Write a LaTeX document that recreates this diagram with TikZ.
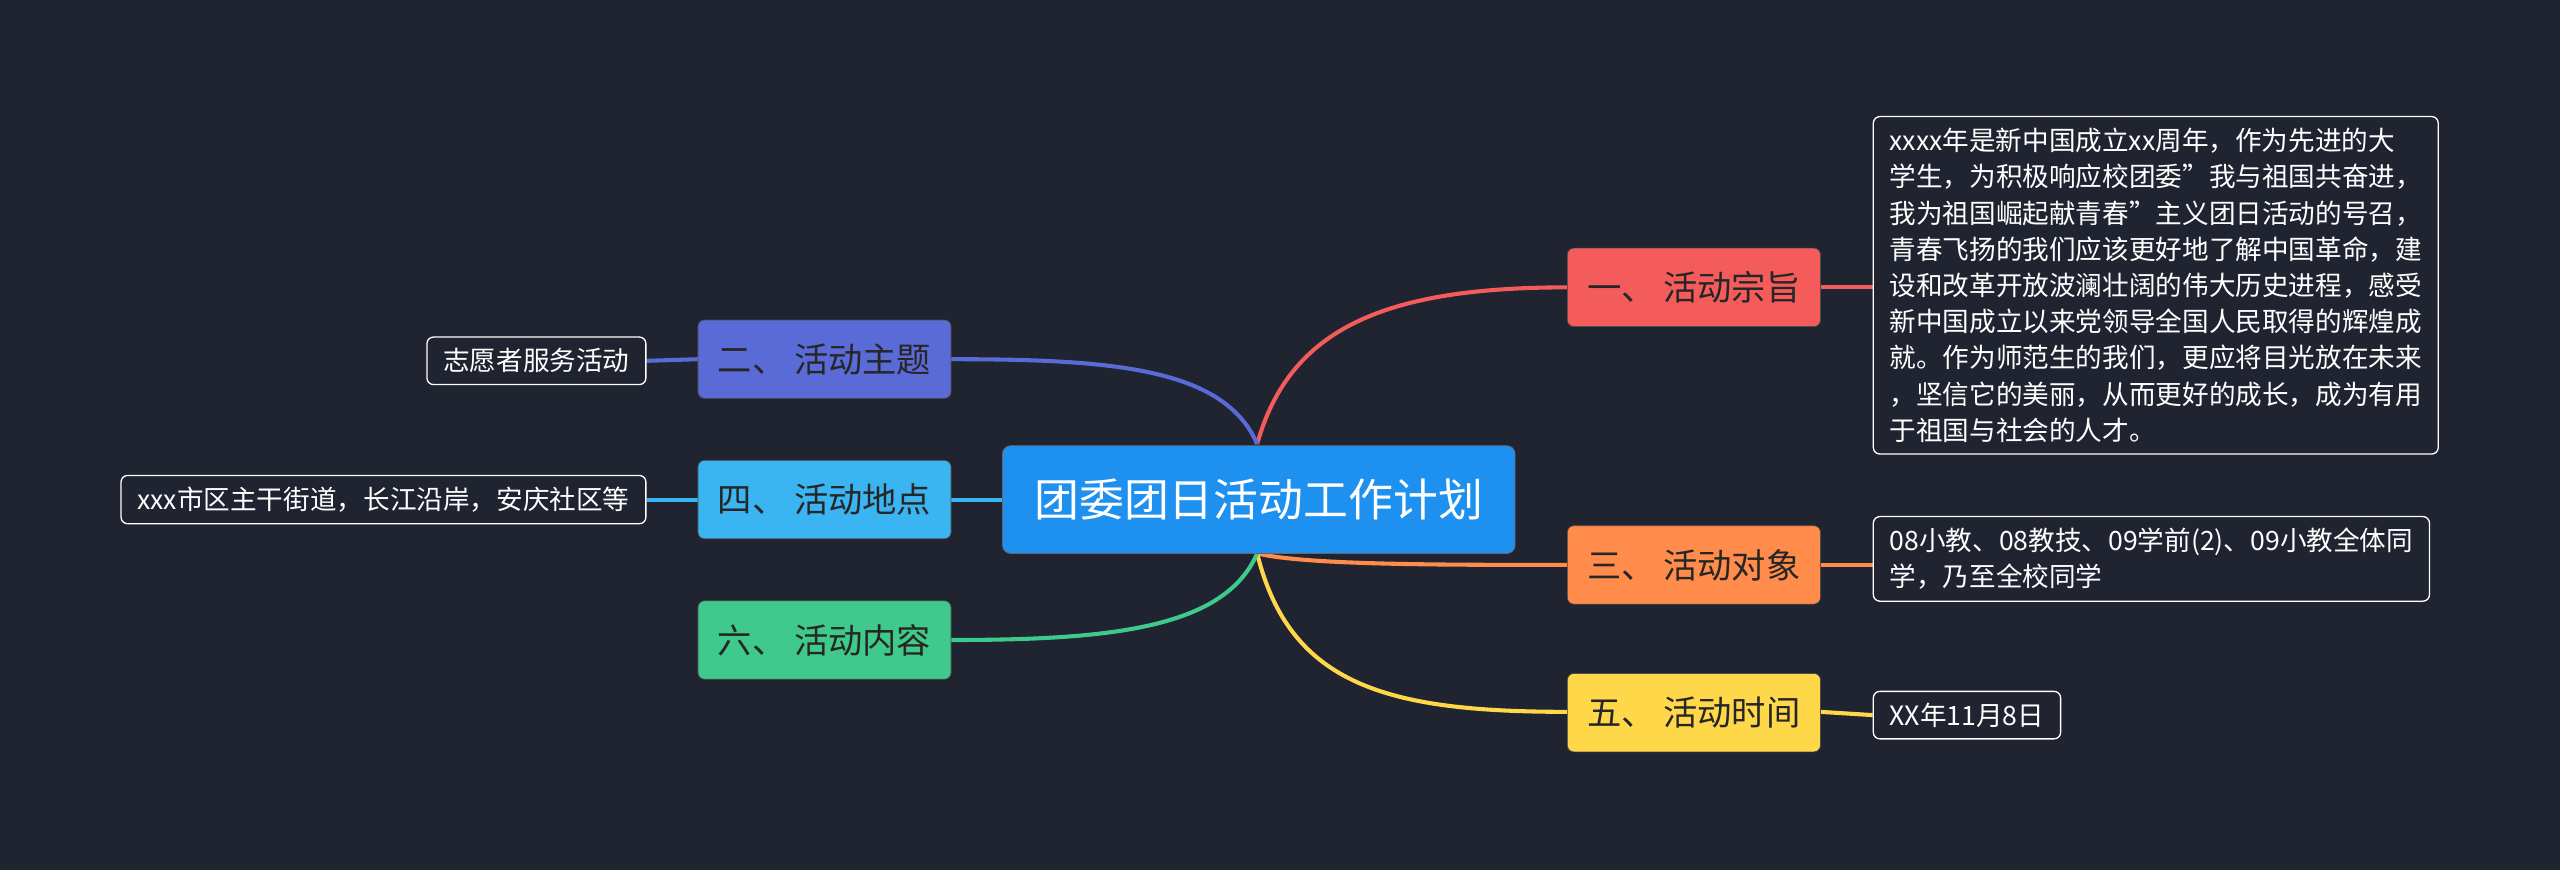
\documentclass[tikz,border=0pt]{standalone}
\usepackage{fontspec}
\setmainfont{Noto Sans CJK SC}
\begin{document}
\begin{tikzpicture}[x=1pt,y=-1pt,
  br/.style={draw=black!70,rounded corners=4pt,minimum width=155pt,minimum height=48pt,font=\fontsize{21}{24}\selectfont,text=black!85,inner sep=0pt},
  leaf/.style={draw=white,rounded corners=4pt,text=white,font=\fontsize{16.3}{22.2}\selectfont,align=left,inner xsep=10pt,inner ysep=7pt,line width=0.8pt},
  con/.style={line width=2.5pt}]
\fill[fill={rgb,255:red,32;green,36;blue,48}] (0,0) rectangle (1568,533);
\useasboundingbox (0,0) rectangle (1568,533);
\definecolor{cr}{RGB}{244,91,91}\definecolor{co}{RGB}{255,140,75}\definecolor{cy}{RGB}{255,216,74}
\definecolor{ci}{RGB}{90,106,214}\definecolor{cb}{RGB}{59,180,242}\definecolor{cg}{RGB}{63,201,138}
\definecolor{cc}{RGB}{30,144,240}
\draw[con,cr] (770,272) .. controls (790,200) and (850,176) .. (960,176);
\draw[con,co] (770,339) .. controls (800,346) and (880,346) .. (960,346);
\draw[con,cy] (770,339) .. controls (790,420) and (850,436) .. (960,436);
\draw[con,ci] (770,272) .. controls (750,225) and (680,220) .. (582,220);
\draw[con,cb] (614,306) -- (582,306);
\draw[con,cg] (770,339) .. controls (750,385) and (680,392) .. (582,392);
\draw[con,cr] (1115,176) -- (1147,176);
\draw[con,co] (1115,346) -- (1147,346);
\draw[con,cy] (1115,436) -- (1147,438);
\draw[con,ci] (428,220) -- (396,221);
\draw[con,cb] (428,306) -- (396,306);
\node[fill=cc,draw=black!60,rounded corners=5pt,minimum width=314pt,minimum height=66pt,text=white,font=\fontsize{27.5}{30}\selectfont,inner sep=0pt] (c) at (771,306) {团委团日活动工作计划};
\node[br,fill=cr] (a1) at (1037.5,176) {一、 活动宗旨};
\node[br,fill=co] (a3) at (1037.5,346) {三、 活动对象};
\node[br,fill=cy] (a5) at (1037.5,436.5) {五、 活动时间};
\node[br,fill=ci] (a2) at (505,220) {二、 活动主题};
\node[br,fill=cb] (a4) at (505,306) {四、 活动地点};
\node[br,fill=cg] (a6) at (505,392) {六、 活动内容};
\node[leaf,anchor=north west] (l1) at (1147,71) {xxxx年是新中国成立xx周年，作为先进的大\\学生，为积极响应校团委"我与祖国共奋进，\\我为祖国崛起献青春"主义团日活动的号召，\\青春飞扬的我们应该更好地了解中国革命，建\\设和改革开放波澜壮阔的伟大历史进程，感受\\新中国成立以来党领导全国人民取得的辉煌成\\就。作为师范生的我们，更应将目光放在未来\\，坚信它的美丽，从而更好的成长，成为有用\\于祖国与社会的人才。};
\node[leaf,anchor=north west] (l3) at (1147,316) {08小教、08教技、09学前(2)、09小教全体同\\学，乃至全校同学};
\node[leaf,anchor=west] (l5) at (1147,438) {XX年11月8日};
\node[leaf,anchor=east] (l2) at (396,221) {志愿者服务活动};
\node[leaf,anchor=east] (l4) at (396,306) {xxx市区主干街道，长江沿岸，安庆社区等};
\end{tikzpicture}
\end{document}
